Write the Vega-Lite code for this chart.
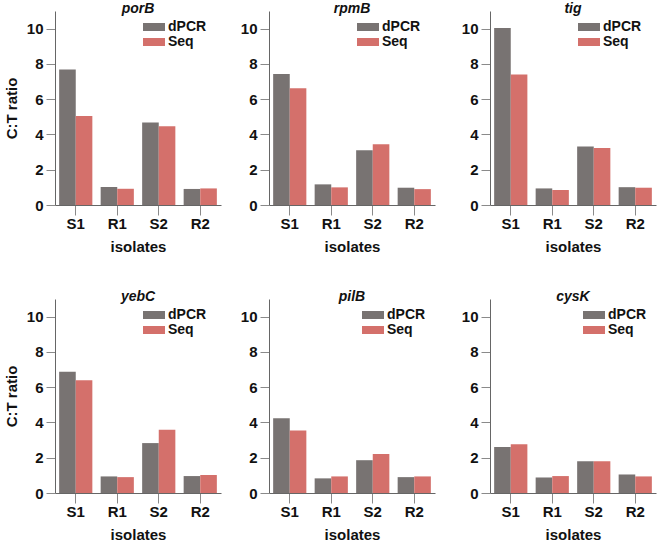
{
  "$schema": "https://vega.github.io/schema/vega-lite/v6.json",
  "padding": {"left": 4, "top": 2, "right": 1, "bottom": 0},
  "data": {"values": [
    {"gene": "porB", "isolate": "S1", "series": "dPCR", "value": 7.68},
    {"gene": "porB", "isolate": "S1", "series": "Seq", "value": 5.04},
    {"gene": "porB", "isolate": "R1", "series": "dPCR", "value": 1.02},
    {"gene": "porB", "isolate": "R1", "series": "Seq", "value": 0.92},
    {"gene": "porB", "isolate": "S2", "series": "dPCR", "value": 4.68},
    {"gene": "porB", "isolate": "S2", "series": "Seq", "value": 4.47},
    {"gene": "porB", "isolate": "R2", "series": "dPCR", "value": 0.91},
    {"gene": "porB", "isolate": "R2", "series": "Seq", "value": 0.94},
    {"gene": "rpmB", "isolate": "S1", "series": "dPCR", "value": 7.43},
    {"gene": "rpmB", "isolate": "S1", "series": "Seq", "value": 6.62},
    {"gene": "rpmB", "isolate": "R1", "series": "dPCR", "value": 1.17},
    {"gene": "rpmB", "isolate": "R1", "series": "Seq", "value": 1.0},
    {"gene": "rpmB", "isolate": "S2", "series": "dPCR", "value": 3.11},
    {"gene": "rpmB", "isolate": "S2", "series": "Seq", "value": 3.45},
    {"gene": "rpmB", "isolate": "R2", "series": "dPCR", "value": 0.98},
    {"gene": "rpmB", "isolate": "R2", "series": "Seq", "value": 0.9},
    {"gene": "tig", "isolate": "S1", "series": "dPCR", "value": 10.04},
    {"gene": "tig", "isolate": "S1", "series": "Seq", "value": 7.4},
    {"gene": "tig", "isolate": "R1", "series": "dPCR", "value": 0.94},
    {"gene": "tig", "isolate": "R1", "series": "Seq", "value": 0.85},
    {"gene": "tig", "isolate": "S2", "series": "dPCR", "value": 3.31},
    {"gene": "tig", "isolate": "S2", "series": "Seq", "value": 3.23},
    {"gene": "tig", "isolate": "R2", "series": "dPCR", "value": 1.01},
    {"gene": "tig", "isolate": "R2", "series": "Seq", "value": 0.98},
    {"gene": "yebC", "isolate": "S1", "series": "dPCR", "value": 6.87},
    {"gene": "yebC", "isolate": "S1", "series": "Seq", "value": 6.4},
    {"gene": "yebC", "isolate": "R1", "series": "dPCR", "value": 0.94},
    {"gene": "yebC", "isolate": "R1", "series": "Seq", "value": 0.9},
    {"gene": "yebC", "isolate": "S2", "series": "dPCR", "value": 2.83},
    {"gene": "yebC", "isolate": "S2", "series": "Seq", "value": 3.58},
    {"gene": "yebC", "isolate": "R2", "series": "dPCR", "value": 0.96},
    {"gene": "yebC", "isolate": "R2", "series": "Seq", "value": 1.02},
    {"gene": "pilB", "isolate": "S1", "series": "dPCR", "value": 4.24},
    {"gene": "pilB", "isolate": "S1", "series": "Seq", "value": 3.55},
    {"gene": "pilB", "isolate": "R1", "series": "dPCR", "value": 0.83},
    {"gene": "pilB", "isolate": "R1", "series": "Seq", "value": 0.94},
    {"gene": "pilB", "isolate": "S2", "series": "dPCR", "value": 1.86},
    {"gene": "pilB", "isolate": "S2", "series": "Seq", "value": 2.21},
    {"gene": "pilB", "isolate": "R2", "series": "dPCR", "value": 0.9},
    {"gene": "pilB", "isolate": "R2", "series": "Seq", "value": 0.94},
    {"gene": "cysK", "isolate": "S1", "series": "dPCR", "value": 2.61},
    {"gene": "cysK", "isolate": "S1", "series": "Seq", "value": 2.76},
    {"gene": "cysK", "isolate": "R1", "series": "dPCR", "value": 0.88},
    {"gene": "cysK", "isolate": "R1", "series": "Seq", "value": 0.96},
    {"gene": "cysK", "isolate": "S2", "series": "dPCR", "value": 1.8},
    {"gene": "cysK", "isolate": "S2", "series": "Seq", "value": 1.8},
    {"gene": "cysK", "isolate": "R2", "series": "dPCR", "value": 1.05},
    {"gene": "cysK", "isolate": "R2", "series": "Seq", "value": 0.94}
  ]},
  "config": {
    "font": "Liberation Sans",
    "view": {"stroke": null},
    "axis": {
      "grid": false,
      "domainColor": "#666666",
      "tickColor": "#8a8a8a",
      "labelColor": "#111111",
      "titleColor": "#111111",
      "labelFont": "Liberation Sans",
      "titleFont": "Liberation Sans",
      "labelFontWeight": "bold",
      "titleFontWeight": "bold",
      "labelFontSize": 15,
      "titleFontSize": 15
    },
    "axisX": {"tickSize": 10, "labelPadding": 1, "labelAngle": 0, "titlePadding": 8},
    "axisY": {"tickSize": 9, "labelPadding": 3, "titlePadding": 7},
    "legend": {
      "padding": 0,
      "title": null,
      "labelFont": "Liberation Sans",
      "labelFontSize": 14,
      "labelFontWeight": "bold",
      "labelColor": "#111111",
      "labelOffset": 6,
      "rowPadding": 0,
      "symbolType": "M-1.375,-0.5L1.375,-0.5L1.375,0.5L-1.375,0.5Z",
      "symbolSize": 256,
      "symbolStrokeWidth": 0,
      "symbolOpacity": 1
    },
    "title": {
      "font": "Liberation Sans",
      "fontSize": 14,
      "fontStyle": "italic",
      "fontWeight": "bold",
      "color": "#111111",
      "anchor": "middle",
      "frame": "group",
      "offset": -5
    }
  },
  "vconcat": [
    {
      "hconcat": [
        {
          "hconcat": [
            {
              "width": 166, "height": 194,
              "title": "porB",
              "transform": [{"filter": "datum.gene === 'porB'"}],
              "mark": {"type": "bar"},
              "encoding": {
                "x": {"field": "isolate", "type": "nominal", "sort": ["S1", "R1", "S2", "R2"], "scale": {"paddingInner": 0.2, "paddingOuter": 0.1}, "axis": {"title": "isolates"}},
                "xOffset": {"field": "series", "type": "nominal", "sort": ["dPCR", "Seq"], "scale": {"paddingInner": 0, "paddingOuter": 0}},
                "y": {"field": "value", "type": "quantitative", "scale": {"domain": [0, 11], "nice": false}, "axis": {"values": [0, 2, 4, 6, 8, 10], "title": "C:T ratio"}},
                "color": {"field": "series", "type": "nominal", "scale": {"domain": ["dPCR", "Seq"], "range": ["#787372", "#d4706b"]}, "legend": {"orient": "none", "legendX": 91, "legendY": 8}}
              }
            },
            {
              "width": 166, "height": 194,
              "title": "rpmB",
              "transform": [{"filter": "datum.gene === 'rpmB'"}],
              "mark": {"type": "bar"},
              "encoding": {
                "x": {"field": "isolate", "type": "nominal", "sort": ["S1", "R1", "S2", "R2"], "scale": {"paddingInner": 0.2, "paddingOuter": 0.1}, "axis": {"title": "isolates"}},
                "xOffset": {"field": "series", "type": "nominal", "sort": ["dPCR", "Seq"], "scale": {"paddingInner": 0, "paddingOuter": 0}},
                "y": {"field": "value", "type": "quantitative", "scale": {"domain": [0, 11], "nice": false}, "axis": {"values": [0, 2, 4, 6, 8, 10], "title": null}},
                "color": {"field": "series", "type": "nominal", "scale": {"domain": ["dPCR", "Seq"], "range": ["#787372", "#d4706b"]}, "legend": {"orient": "none", "legendX": 91, "legendY": 8}}
              }
            }
          ],
          "spacing": 19,
          "resolve": {"scale": {"color": "independent"}, "legend": {"color": "independent"}}
        },
        {
          "width": 166, "height": 194,
          "title": "tig",
          "transform": [{"filter": "datum.gene === 'tig'"}],
          "mark": {"type": "bar"},
          "encoding": {
            "x": {"field": "isolate", "type": "nominal", "sort": ["S1", "R1", "S2", "R2"], "scale": {"paddingInner": 0.2, "paddingOuter": 0.1}, "axis": {"title": "isolates"}},
            "xOffset": {"field": "series", "type": "nominal", "sort": ["dPCR", "Seq"], "scale": {"paddingInner": 0, "paddingOuter": 0}},
            "y": {"field": "value", "type": "quantitative", "scale": {"domain": [0, 11], "nice": false}, "axis": {"values": [0, 2, 4, 6, 8, 10], "title": null}},
            "color": {"field": "series", "type": "nominal", "scale": {"domain": ["dPCR", "Seq"], "range": ["#787372", "#d4706b"]}, "legend": {"orient": "none", "legendX": 91, "legendY": 8}}
          }
        }
      ],
      "spacing": 26,
      "resolve": {"scale": {"color": "independent"}, "legend": {"color": "independent"}}
    },
    {
      "hconcat": [
        {
          "hconcat": [
            {
              "width": 166, "height": 194,
              "title": "yebC",
              "transform": [{"filter": "datum.gene === 'yebC'"}],
              "mark": {"type": "bar"},
              "encoding": {
                "x": {"field": "isolate", "type": "nominal", "sort": ["S1", "R1", "S2", "R2"], "scale": {"paddingInner": 0.2, "paddingOuter": 0.1}, "axis": {"title": "isolates"}},
                "xOffset": {"field": "series", "type": "nominal", "sort": ["dPCR", "Seq"], "scale": {"paddingInner": 0, "paddingOuter": 0}},
                "y": {"field": "value", "type": "quantitative", "scale": {"domain": [0, 11], "nice": false}, "axis": {"values": [0, 2, 4, 6, 8, 10], "title": "C:T ratio"}},
                "color": {"field": "series", "type": "nominal", "scale": {"domain": ["dPCR", "Seq"], "range": ["#787372", "#d4706b"]}, "legend": {"orient": "none", "legendX": 91, "legendY": 8}}
              }
            },
            {
              "width": 166, "height": 194,
              "title": "pilB",
              "transform": [{"filter": "datum.gene === 'pilB'"}],
              "mark": {"type": "bar"},
              "encoding": {
                "x": {"field": "isolate", "type": "nominal", "sort": ["S1", "R1", "S2", "R2"], "scale": {"paddingInner": 0.2, "paddingOuter": 0.1}, "axis": {"title": "isolates"}},
                "xOffset": {"field": "series", "type": "nominal", "sort": ["dPCR", "Seq"], "scale": {"paddingInner": 0, "paddingOuter": 0}},
                "y": {"field": "value", "type": "quantitative", "scale": {"domain": [0, 11], "nice": false}, "axis": {"values": [0, 2, 4, 6, 8, 10], "title": null}},
                "color": {"field": "series", "type": "nominal", "scale": {"domain": ["dPCR", "Seq"], "range": ["#787372", "#d4706b"]}, "legend": {"orient": "none", "legendX": 96, "legendY": 8}}
              }
            }
          ],
          "spacing": 19,
          "resolve": {"scale": {"color": "independent"}, "legend": {"color": "independent"}}
        },
        {
          "width": 166, "height": 194,
          "title": "cysK",
          "transform": [{"filter": "datum.gene === 'cysK'"}],
          "mark": {"type": "bar"},
          "encoding": {
            "x": {"field": "isolate", "type": "nominal", "sort": ["S1", "R1", "S2", "R2"], "scale": {"paddingInner": 0.2, "paddingOuter": 0.1}, "axis": {"title": "isolates"}},
            "xOffset": {"field": "series", "type": "nominal", "sort": ["dPCR", "Seq"], "scale": {"paddingInner": 0, "paddingOuter": 0}},
            "y": {"field": "value", "type": "quantitative", "scale": {"domain": [0, 11], "nice": false}, "axis": {"values": [0, 2, 4, 6, 8, 10], "title": null}},
            "color": {"field": "series", "type": "nominal", "scale": {"domain": ["dPCR", "Seq"], "range": ["#787372", "#d4706b"]}, "legend": {"orient": "none", "legendX": 96, "legendY": 8}}
          }
        }
      ],
      "spacing": 26,
      "resolve": {"scale": {"color": "independent"}, "legend": {"color": "independent"}}
    }
  ],
  "spacing": 36,
  "resolve": {"scale": {"color": "independent"}, "legend": {"color": "independent"}}
}
